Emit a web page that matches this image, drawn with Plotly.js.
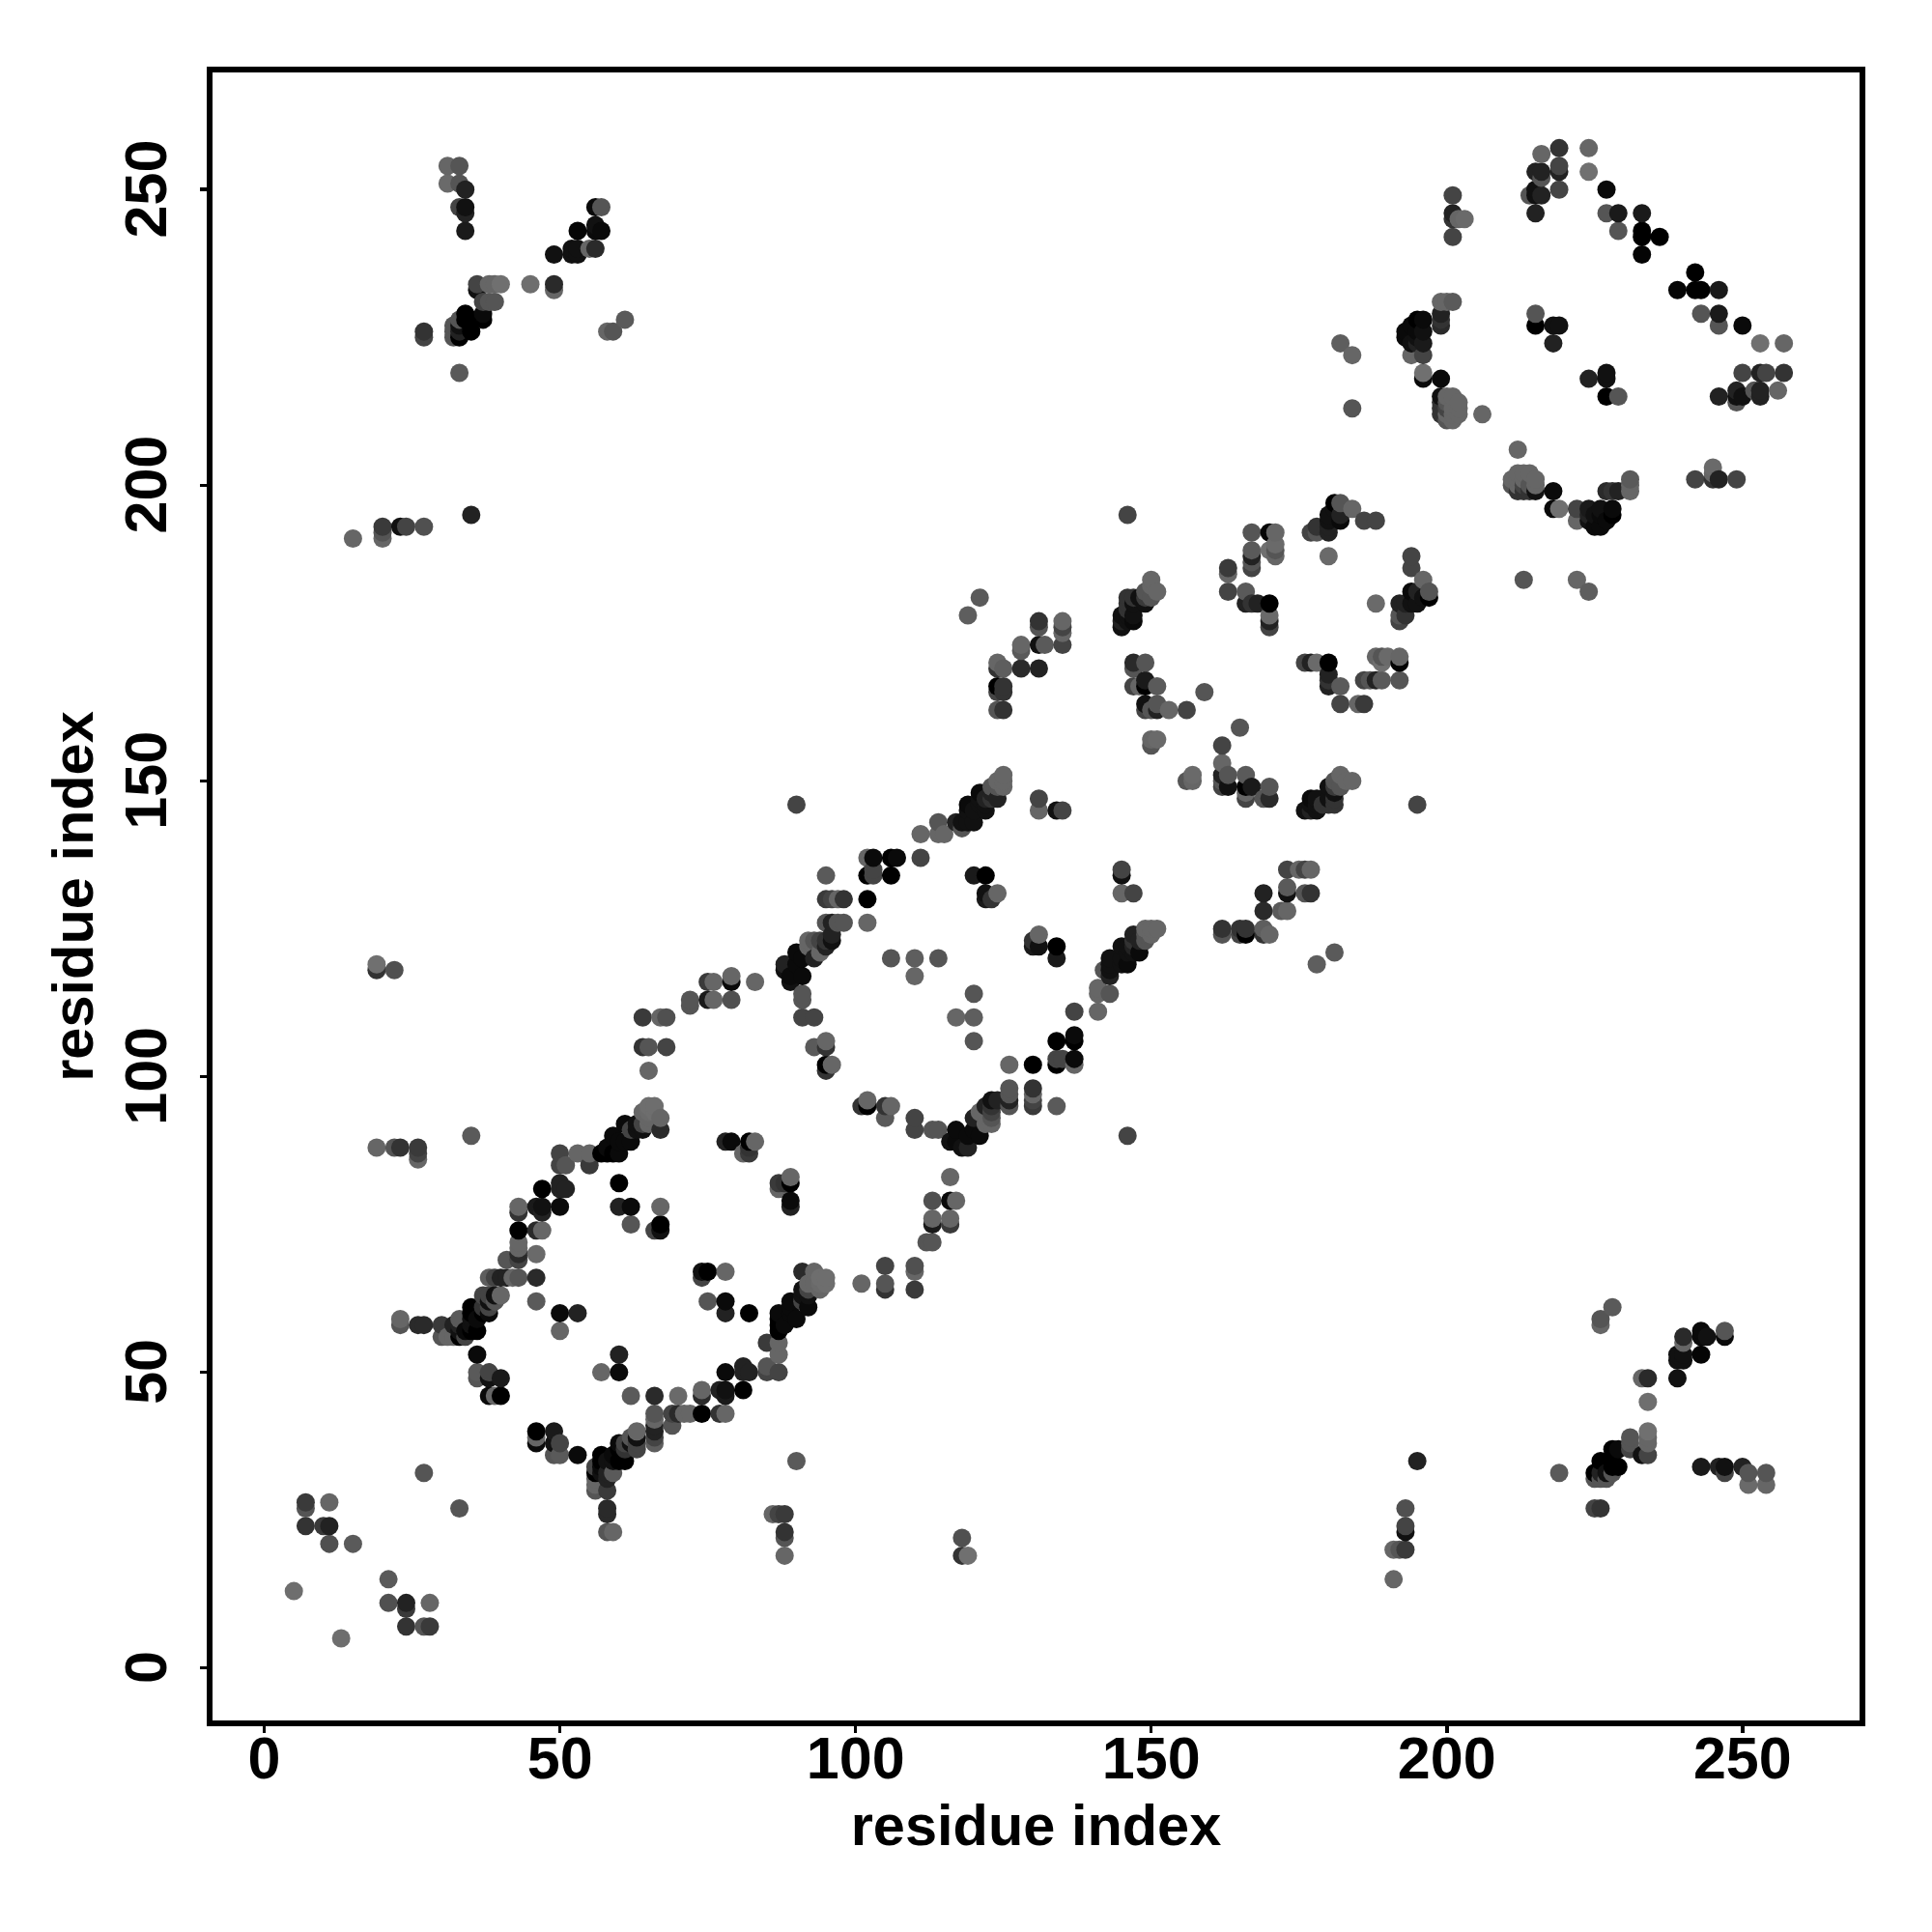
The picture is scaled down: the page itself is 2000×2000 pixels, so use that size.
<!DOCTYPE html>
<html><head><meta charset="utf-8">
<script src="https://cdn.plot.ly/plotly-3.0.1.min.js"></script>
<style>html,body{margin:0;padding:0;background:#fff}</style></head>
<body><div id="chart" style="width:2000px;height:2000px"></div>
<script>
// contacts: [residue i, residue j, grey level]; the map is symmetric in i and j
const nearTerminus = [[5,13,110],[13,5,102],[21,15,90],[21,11,80],[24,11,34],[24,10,58],[28,11,102],[24,7,51],[27,7,85],[28,7,58],
[7,28,58],[7,27,68],[11,28,90],[7,24,51],[10,24,68],[11,24,26],[27,33,85],[33,27,80]];
const lowerBandA = [[46,66,42],[46,62,90],[50,60,10],[53,60,34],[50,57,102],[60,53,34],[60,50,5],[57,50,85],[62,46,85],[66,46,34],[70,46,106],
[74,47,102],[74,46,42],[74,43,0],[72,43,102],[66,43,85],[66,42,102],[66,41,34],[66,40,34],[66,39,68],[66,38,94],[69,43,68],[69,41,85],[70,43,42],[71,43,102],
[63,40,102],[63,38,68],[62,39,85],[63,37,68],[61,38,68],[60,38,10],[60,37,0],[61,35,0],[59,36,10],[57,36,0],[58,35,17],[59,35,17],[57,34,10],[56,34,68],[58,33,34],[59,33,90],[56,33,0],
[56,32,102],[56,31,102],[56,30,85],[58,30,58],[58,32,34],[58,27,42],[58,26,42],[58,23,85],[59,23,102],
[46,40,0],[46,38,10],[46,39,102],[49,40,26],[49,38,17],[50,38,68],[49,36,85],[50,36,90],[53,36,10]];
const lowerBandB = [[23,59,102],[23,58,85],[26,58,42],[27,58,42],[30,58,58],[30,56,85],[31,56,102],[32,56,90],[34,56,68],[33,59,102],
[33,57,17],[34,57,10],[35,57,0],[36,57,0],[35,61,0],[35,60,0],[35,59,0],[36,59,10],[38,60,10],[37,61,51],[38,62,17],[39,63,17],[40,63,102],[37,63,85],[39,62,85],
[38,66,102],[39,66,85],[40,66,17],[41,66,42],[42,66,102],[43,66,85],[36,53,5],[36,50,90],[36,49,90],[38,50,58],[38,49,34],[40,49,17],[38,46,0],[39,46,85],[40,46,0],
[41,69,85],[43,69,51],[46,70,112],[43,71,102],[43,70,102],[43,78,102],[43,77,51],[43,74,0],[46,74,51],[47,74,110],[47,81,0],[50,82,34],[51,81,34],[50,81,34],[50,78,10],[46,78,26],[47,78,17],[47,77,34]];
const upperRing = [[65,101,102],[35,90,90],[90,35,85],[50,87,68],[50,85,68],[51,85,85],[53,87,102],[55,87,102],[55,85,58],[57,87,0],[58,87,0],[59,87,0],[60,87,10],[59,90,10],[60,89,10],[61,89,10],[62,89,10],
[61,92,10],[62,91,68],[63,91,17],[64,91,17],[63,92,17],[64,92,68],[65,92,102],[67,93,102],[67,91,42],[65,94,106],[66,94,110],[65,95,110],[66,95,110],
[60,82,0],[60,78,34],[62,78,10],[62,75,85],[67,78,102],[67,75,0],[67,74,17],[66,74,68],
[78,89,34],[79,89,10],[82,89,0],[83,89,102],[82,88,51],[81,87,102],[89,83,102],[87,82,58],[89,82,0],[87,81,102],[89,79,10],[89,78,34],
[95,101,51],[96,102,102],[101,95,68],[102,96,102],[102,95,0],[105,95,51],[106,95,102],[105,93,90],[105,68,68],[105,65,85],[105,64,51],[101,65,102],
[74,67,17],[75,67,0],[74,66,68],[78,67,102],[91,67,51],[93,67,102],[95,65,112],[93,65,102],[94,64,102],[91,64,17],[89,62,0],[91,62,68],[92,61,17],[87,60,0],[89,60,34],[90,59,17],[87,58,0],[88,58,10],[87,57,10],
[85,55,68],[87,55,102],[87,53,102],[85,51,85],[85,50,85],[87,50,68],[75,62,74],[78,62,10],[78,60,34],[82,60,0],[81,51,17],[82,50,17],[81,47,10],[78,50,10],[78,47,17],[77,47,26],[78,46,26],[74,43,0],[77,43,68],[78,43,102]];
const offDiagonalLow = [[86,26,102],[87,26,68],[88,26,58],[88,23,51],[88,22,85],[88,19,102],[90,146,68],[118,22,80],[118,19,51],[119,19,112],
[15,191,102],[20,193,58],[20,191,102],[20,192,85],[23,193,17],[24,193,68],[27,193,80],[35,195,34],
[193,27,85],[193,24,68],[193,23,26],[191,20,102],[192,20,102],[193,20,58],[191,15,112]];
const farContacts = [[228,61,90],[226,59,85],[226,58,102],[219,33,90],[240,56,42],[240,55,102],[243,57,10],[243,56,10],[244,56,17],[247,57,85],[247,56,10],
[239,53,17],[240,53,17],[239,52,17],[240,52,17],[243,53,5],[239,49,17],[233,49,102],[234,49,42],[234,45,110],[234,40,112],[234,39,102],[234,38,102],[234,36,68],[233,36,17],
[231,39,85],[231,38,85],[231,37,68],[228,37,0],[229,37,10],[229,34,0],[228,35,0],[228,34,0],[226,35,0],[225,33,0],[226,33,34],[227,33,17],[227,32,85],[226,32,85],[225,32,85],[228,33,85],
[225,27,68],[226,27,51],[243,34,26],[246,34,34],[247,34,17],[247,33,68],[250,34,34],[251,33,85],[251,31,106],[254,33,85],[254,31,102]];
const middleRing = [[131,147,68],[131,145,102],[134,145,17],[135,145,68],[125,151,102],[124,150,102],[125,150,102],[123,149,85],[124,149,85],[125,149,102],[121,148,10],[123,147,51],[124,147,34],[122,146,17],[119,146,10],[121,146,17],
[119,145,17],[120,145,17],[122,145,17],[118,143,17],[117,143,34],[120,143,17],[118,142,85],[114,143,85],[114,141,102],[115,141,102],[111,141,102],[111,137,68],
[102,137,102],[103,137,10],[103,134,68],[102,134,0],[106,137,0],[107,137,10],[106,134,0],[95,134,90],[95,130,58],[96,130,68],[97,130,102],[98,130,51],[102,130,0],[102,126,102],[95,126,85],[96,126,34],[97,126,85],[98,126,85],
[96,124,34],[95,123,51],[94,123,68],[92,123,102],[93,123,85],[96,123,17],[92,122,102],[94,121,102],[93,120,34],[90,121,10],[91,120,10],[88,119,34],[90,119,10],[88,118,17],[91,117,10],[89,117,10],[89,116,17],[91,114,85],[91,113,85],[91,110,68],[93,110,68],
[93,105,85],[95,106,102],[95,105,34],[95,102,17],[96,102,102],[95,101,51],[106,120,85],[110,120,94],[114,120,85],[110,117,102],[120,114,80],[117,110,102],[120,110,102],[120,106,102],
[120,134,26],[122,134,0],[122,131,17],[123,130,51],[124,131,102],[122,130,26],[145,135,68],[145,134,26],[145,131,102],[147,131,68],
[151,125,102],[149,125,102],[150,125,102],[149,123,102],[147,124,17],[148,123,34],[145,122,0],[147,122,34],[147,121,17],[143,120,26],[145,120,17],[146,119,17],[143,119,17],[143,118,17],[145,119,10],[142,118,85],[143,117,17],[141,115,102],[141,114,102],[143,114,68],[141,111,102],[137,111,68],
[131,124,102],[130,123,68],[130,122,34],[131,122,17],[134,122,0],[134,120,26],[137,107,26],[137,106,17],[134,106,5],[137,103,17],[137,102,102],[134,103,68],[134,102,34],[135,103,68],[130,102,0],[126,102,102],
[130,98,51],[130,97,85],[130,96,102],[130,95,68],[126,98,102],[126,97,102],[126,96,34],[126,95,68],[134,95,90],[105,93,85],[110,93,68],[110,91,80],[113,91,85],[114,91,102],
[117,91,17],[116,89,51],[117,89,0],[118,88,10],[119,88,17],[119,90,0],[120,93,17],[121,90,0],[123,96,34],[123,95,34],[122,95,34],[123,93,34],[123,92,85],[121,94,102],[122,92,85],
[116,83,102],[113,79,80],[116,79,10],[117,79,102],[113,76,102],[113,75,26],[116,76,102],[116,75,58],[112,72,85],[113,72,85],[105,68,68],[110,68,80],[110,67,102],[101,65,102],[110,64,58]];
const fourthRing = [[146,195,68],[167,192,85],[170,192,5],[171,192,102],[167,189,90],[167,188,34],[167,187,85],[167,186,68],[170,189,112],[171,190,106],[171,188,102],[171,189,85],
[163,186,58],[163,185,102],[163,182,68],[166,182,90],[166,180,34],[167,180,51],[170,180,0],[170,178,106],[170,177,34],[170,176,68],
[181,197,0],[182,197,85],[181,196,17],[184,196,102],[180,195,17],[182,194,10],[180,194,17],[186,194,68],[188,194,68],[180,192,34],[178,193,51],[177,192,68],[180,188,106],
[194,188,68],[194,186,68],[196,184,102],[197,182,102],[194,182,0],[195,182,34],[197,181,17],[195,180,10],[192,180,34],[193,180,34],[188,180,102],[193,178,51],[192,178,85],[192,177,68],
[150,184,102],[151,182,102],[150,183,102],[149,182,85],[149,180,17],[146,181,51],[147,181,51],[145,178,17],[145,177,34],[147,178,17],[146,178,17],[148,181,17],[150,181,85],
[147,170,42],[149,170,85],[147,169,85],[147,166,68],[148,166,102],[149,167,26],[149,166,0],[151,166,90],[149,163,17],[149,162,68],[151,163,85],[151,162,34],[150,162,85],[153,162,102],[156,162,68],[159,165,85],[150,157,102],[151,157,106],[150,156,85],
[176,170,85],[177,170,34],[178,170,102],[180,170,0],[188,171,106],[189,171,102],[190,171,106],[192,171,102],[192,170,17],[189,170,106],[186,167,85],[187,167,102],[188,167,51],[189,167,90],[192,167,85],
[180,168,34],[180,167,51],[180,166,34],[182,166,90],[182,163,68],[185,163,102],[186,163,58],[165,159,90],[162,156,58],[162,153,102],[162,151,42],[162,150,102],[162,149,85],[163,151,68],[163,149,17],[166,151,90],[166,149,0],[167,149,34],[166,147,68],[166,148,102],[170,149,85],[170,147,34],[169,147,102],
[156,150,85],[157,151,102],[157,150,102],[182,151,102],[184,150,102],[181,150,68],[180,149,17],[181,149,58],[180,147,17],[181,146,58],[177,147,10],[176,145,17],[178,145,17],[177,146,17],[179,146,51],[180,146,51],[195,146,68],
[121,181,90],[119,178,94],[131,177,51],[131,176,85],[135,177,102],[135,176,68],[135,175,102],[135,173,68],[128,173,102],[128,172,90],[131,173,17],[132,173,90],[124,170,102],[124,169,51],[125,169,94],[128,169,42],[131,169,34],
[124,166,0],[125,166,51],[124,165,68],[125,165,51],[124,162,85],[125,162,51],
[173,135,68],[175,135,102],[176,135,68],[177,135,102],[173,132,102],[173,131,34],[176,131,102],[177,131,58],[169,131,34],[169,128,42],[172,128,102],[173,128,102],
[162,125,51],[162,124,85],[165,125,85],[166,125,51],[166,124,0],[165,124,85],[169,125,85],[169,124,34],[170,124,102],[181,121,90],[178,119,94]];
const topRing = [[201,249,68],[201,246,34],[201,245,51],[202,245,102],[203,245,106],[201,242,68],[216,256,102],[219,257,51],[224,257,102],[224,253,112],[215,253,34],[216,253,34],[216,252,85],[219,254,68],[219,253,34],[219,250,68],
[214,249,85],[215,249,17],[216,249,34],[215,250,17],[215,246,34],[227,250,10],[227,246,85],[229,246,26],[229,243,85],[233,246,26],[233,243,0],[233,242,0],[236,242,0],[233,239,5],
[242,236,0],[239,233,10],[242,233,0],[243,233,0],[246,233,26],[243,229,85],[246,229,17],[246,227,80],[250,227,17],[253,224,112],[257,224,94],[250,219,58],[253,219,17],[254,219,51],[257,219,42],
[246,215,26],[249,216,17],[249,215,17],[250,215,34],[249,214,85],[252,216,85],[253,216,34],[253,215,34],[256,216,102],
[215,229,85],[215,227,0],[218,227,17],[219,227,17],[218,224,34],[227,219,26],[227,218,17],[224,218,26],[227,215,0],[229,215,80],
[199,231,102],[200,231,102],[201,231,90],[199,228,51],[199,227,42],[195,228,0],[196,228,10],[194,227,10],[193,226,10],[193,225,10],[195,226,10],[194,224,17],[196,224,26],[194,222,102],[196,222,68],
[196,219,112],[196,218,10],[199,218,10],[199,215,17],[199,214,51],[199,213,51],[200,215,102],[201,215,102],[202,214,102],[202,213,102],[200,212,102],[201,212,102],[202,212,102],[200,211,85],[201,211,102],[206,212,102],[212,206,102],
[211,201,102],[211,200,68],[213,202,102],[214,202,102],[212,200,68],[213,200,68],[212,199,51],[213,199,51],[214,200,85],[215,201,102],[215,199,17],[212,201,102],[213,201,102],
[218,199,5],[218,196,10],[219,196,102],[222,196,68],[222,194,102],[224,196,17],[224,195,34],[225,195,17],[226,196,17],[227,199,34],[228,199,51],[229,199,34],[228,196,17],[228,195,17],[225,193,17],[226,193,17],[224,194,34],[227,194,17],
[231,201,102],[231,200,102],[231,199,102],[242,201,68],[245,203,102],[245,201,85],[246,201,26],[249,201,68],[213,184,85],[222,184,102],[224,182,94]];

const tickValues = [0, 50, 100, 150, 200, 250];
const axisLabel = 'residue index';

const shown = new Map();
[nearTerminus, lowerBandA, lowerBandB, upperRing, offDiagonalLow, farContacts, middleRing, fourthRing, topRing].forEach(group => {
  group.forEach(([i, j, g]) => {
    if (!shown.has(i + ',' + j)) shown.set(i + ',' + j, [i, j, g]);
    if (!shown.has(j + ',' + i)) shown.set(j + ',' + i, [j, i, g]);
  });
});
const pts = [...shown.values()].sort((a, b) => a[0] - b[0] || a[1] - b[1]);

const font = 'Liberation Sans, Arial, sans-serif';
const axisBase = {
  showgrid: false, zeroline: false, showline: true, mirror: true, linecolor: '#000', linewidth: 6,
  ticks: 'outside', ticklen: 7, tickwidth: 3.5, tickcolor: '#000',
  tickmode: 'array', tickvals: tickValues, ticktext: tickValues.map(String),
  tickfont: {family: font, size: 61, color: '#000', weight: 700}
};
Plotly.newPlot('chart', [{
  type: 'scatter', mode: 'markers', x: pts.map(p => p[0]), y: pts.map(p => p[1]), cliponaxis: false,
  marker: {size: 19, color: pts.map(p => `rgb(${p[2]},${p[2]},${p[2]})`), line: {width: 0}}
}], {
  width: 2000, height: 2000, showlegend: false, paper_bgcolor: '#fff', plot_bgcolor: '#fff',
  margin: {l: 219.7, r: 75, t: 75, b: 219, pad: 0},
  xaxis: Object.assign({}, axisBase, {range: [-8.755, 269.8], automargin: false, ticklabelstandoff: -26,
    title: {text: '<b>' + axisLabel + '</b>', standoff: 17, font: {family: font, size: 59.5, color: '#000'}}}),
  yaxis: Object.assign({}, axisBase, {range: [-8.87, 269.8], automargin: false, tickangle: -90, ticklabelstandoff: 11,
    ticktext: tickValues.map(v => v + '\u00A0'),
    title: {text: '<b>' + axisLabel + '</b>', standoff: 3, font: {family: font, size: 59.5, color: '#000'}}})
}, {staticPlot: true, displayModeBar: false});
</script></body></html>
